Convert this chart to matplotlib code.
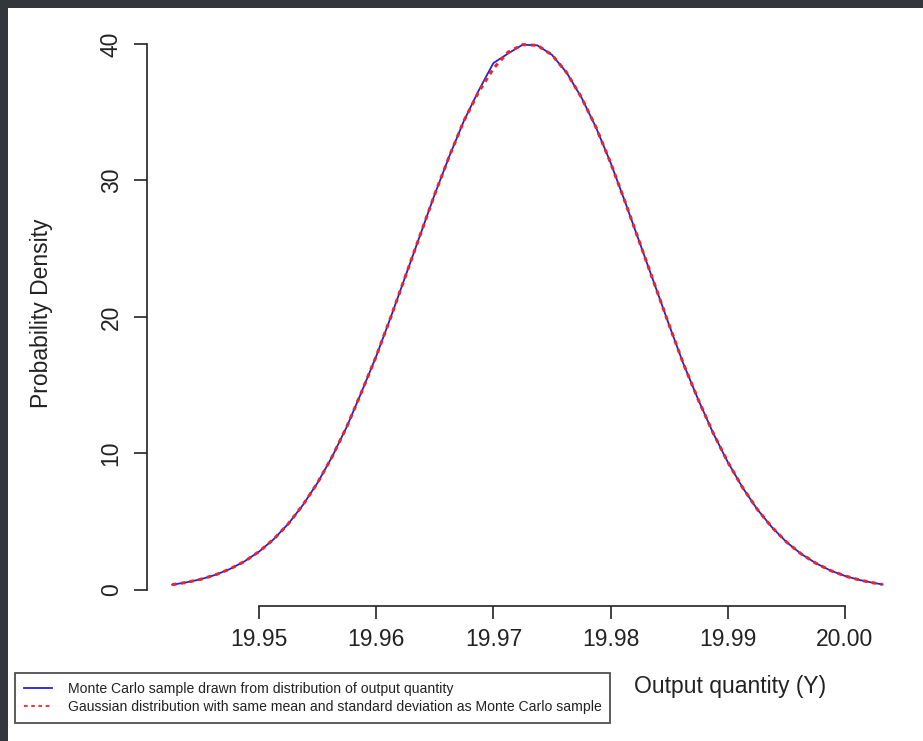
import matplotlib
matplotlib.use("Agg")
import matplotlib.pyplot as plt
from matplotlib.patches import Rectangle
from matplotlib.lines import Line2D

plt.rcParams['font.family'] = ['Liberation Sans', 'DejaVu Sans']

# Density curves read along the output quantity
y_grid = [19.9426, 19.94375, 19.9450, 19.94625, 19.9475, 19.94875, 19.9500, 19.95125,
          19.9525, 19.95375, 19.9550, 19.95625, 19.9575, 19.9587, 19.9600, 19.96125,
          19.9625, 19.96375, 19.9650, 19.96625, 19.9675, 19.96875, 19.9700, 19.97125,
          19.9725, 19.97375, 19.9750, 19.97625, 19.9775, 19.97875, 19.9800, 19.98125,
          19.9825, 19.98375, 19.9850, 19.9862, 19.9875, 19.98875, 19.9900, 19.99125,
          19.9925, 19.99375, 19.9950, 19.99625, 19.9975, 19.99875, 20.0000, 20.00125,
          20.0025, 20.0032]
mc_density = [0.39, 0.55, 0.78, 1.10, 1.53, 2.09, 2.81, 3.72,
              4.85, 6.23, 7.86, 9.78, 11.98, 14.4, 17.12, 20.0,
              23.0, 26.0, 29.0, 31.8, 34.4, 36.6, 38.6, 39.3,
              39.95, 39.9, 39.2, 37.9, 36.1, 33.9, 31.3, 28.4,
              25.4, 22.4, 19.4, 16.6, 13.9, 11.5, 9.37, 7.52,
              5.93, 4.61, 3.52, 2.65, 1.97, 1.43, 1.03, 0.73,
              0.51, 0.41]
gauss_density = [0.39, 0.55, 0.78, 1.10, 1.53, 2.09, 2.81, 3.72,
                 4.85, 6.23, 7.86, 9.78, 11.98, 14.4, 17.12, 20.0,
                 23.0, 26.0, 29.0, 31.8, 34.4, 36.5, 38.2, 39.4,
                 39.95, 39.9, 39.2, 37.9, 36.1, 33.9, 31.3, 28.4,
                 25.4, 22.4, 19.4, 16.6, 13.9, 11.5, 9.37, 7.52,
                 5.93, 4.61, 3.52, 2.65, 1.97, 1.43, 1.03, 0.73,
                 0.51, 0.41]

x_ticks = [19.95, 19.96, 19.97, 19.98, 19.99, 20.00]
x_tick_labels = ['19.95', '19.96', '19.97', '19.98', '19.99', '20.00']
y_ticks = [0, 10, 20, 30, 40]

legend_labels = ['Monte Carlo sample drawn from distribution of output quantity',
                 'Gaussian distribution with same mean and standard deviation as Monte Carlo sample']

W, H = 923, 741
fig = plt.figure(figsize=(W / 100, H / 100), dpi=100)
fig.patch.set_facecolor('#33363b')
# white page inside the dark window frame
fig.patches.append(Rectangle((8 / W, 0), 1, 1 - 8 / H, transform=fig.transFigure,
                             facecolor='white', edgecolor='none', zorder=-5))

def px(x0, y0, x1, y1):
    return [x0 / W, 1 - y1 / H, (x1 - x0) / W, (y1 - y0) / H]

ax = fig.add_axes(px(147, 25, 905, 606))
ax.set_facecolor('none')
ax.set_zorder(2)

ax.plot(y_grid, mc_density, color='#2323d8', lw=1.3, zorder=2)
ax.plot(y_grid, gauss_density, color='#f02424', lw=2.2, linestyle=(0, (1.4, 1.5)), zorder=3)

ax.set_xlim(19.940444, 20.00512)
ax.set_ylim(-1.172, 41.39)

for s in ['top', 'right']:
    ax.spines[s].set_visible(False)
ax.spines['left'].set_bounds(0, 40)
ax.spines['bottom'].set_bounds(19.95, 20.00)
for s in ['left', 'bottom']:
    ax.spines[s].set_linewidth(1.2)
    ax.spines[s].set_color('#222222')

ax.set_xticks(x_ticks)
ax.set_xticklabels(x_tick_labels)
ax.set_yticks(y_ticks)
ax.set_yticklabels([str(v) for v in y_ticks], rotation=90, va='center')
ax.tick_params(axis='both', direction='out', length=9.5, width=1.2, color='#222222',
               labelsize=16.5, labelcolor='#222222', pad=6)
ax.tick_params(axis='y', pad=8)

fig.text(42 / W, 1 - 313 / H, 'Probability Density', rotation=90, ha='center', va='center',
         fontsize=16.5, color='#222222')
fig.text(730 / W, 1 - 686 / H, 'Output quantity (Y)', ha='center', va='center',
         fontsize=16.5, color='#222222')

handles = [Line2D([], [], color='#2323d8', lw=1.3),
           Line2D([], [], color='#f02424', lw=1.3, linestyle=(0, (2, 2)))]
leg = fig.legend(handles, legend_labels, loc='upper left',
                 bbox_to_anchor=(15 / W, 1 - 673 / H), fontsize=10.1,
                 frameon=True, fancybox=False, edgecolor='#222222',
                 handlelength=2.0, handletextpad=1.1, borderpad=0.65,
                 labelspacing=0.25, borderaxespad=0)
leg.get_frame().set_linewidth(1.3)
for t in leg.get_texts():
    t.set_color('#222222')

fig.savefig('out.png', dpi=100, facecolor=fig.get_facecolor())
